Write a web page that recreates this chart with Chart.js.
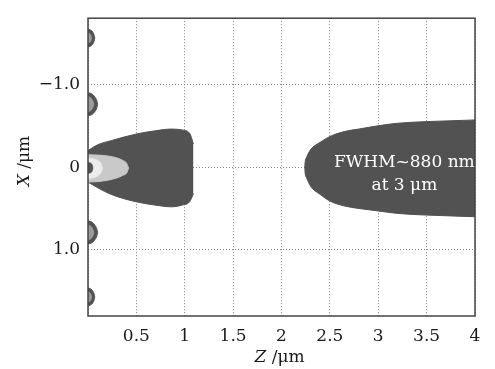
<!DOCTYPE html>
<html>
<head>
<meta charset="utf-8">
<script src="https://cdn.jsdelivr.net/npm/chart.js@4/dist/chart.umd.min.js"></script>
<style>
  html, body { margin: 0; padding: 0; background: #fff; }
  #wrap { width: 495px; height: 369px; }
</style>
</head>
<body>
<div id="wrap"><canvas id="beam"></canvas></div>
<script>
// axis ticks
var zTicks = [0, 0.5, 1, 1.5, 2, 2.5, 3, 3.5, 4];
var xTicks = [-1, 0, 1];

// main lobe near the tip (dark contour), upper and lower edge [Z, X]
var lobeTop = [[0, -0.2], [0.1, -0.27], [0.24, -0.32], [0.5, -0.4], [0.7, -0.44], [0.86, -0.46], [0.97, -0.45], [1.05, -0.41], [1.09, -0.28]];
var lobeBot = [[0, 0.18], [0.1, 0.25], [0.24, 0.33], [0.5, 0.42], [0.7, 0.46], [0.86, 0.48], [0.97, 0.46], [1.05, 0.42], [1.09, 0.32]];

// light grey and near-white cores, dark hot spot
var coreTop = [[0, -0.15], [0.1, -0.145], [0.2, -0.135], [0.3, -0.11], [0.36, -0.08], [0.4, -0.045], [0.42, 0.015]];
var coreBot = [[0, 0.18], [0.1, 0.175], [0.2, 0.16], [0.3, 0.13], [0.36, 0.1], [0.4, 0.07], [0.42, 0.015]];
var innerTop = [[0, -0.11], [0.05, -0.1], [0.1, -0.08], [0.13, -0.05], [0.15, 0.015]];
var innerBot = [[0, 0.14], [0.05, 0.13], [0.1, 0.105], [0.13, 0.075], [0.15, 0.015]];
var spotTop = [[0, -0.055], [0.03, -0.045], [0.045, -0.02], [0.05, 0.01]];
var spotBot = [[0, 0.075], [0.03, 0.065], [0.045, 0.04], [0.05, 0.01]];

// far-field beam (dark contour)
var farTop = [[2.24, 0], [2.245, -0.07], [2.26, -0.12], [2.3, -0.21], [2.4, -0.3], [2.5, -0.37], [2.65, -0.43], [2.8, -0.46], [3.0, -0.5], [3.2, -0.53], [3.5, -0.55], [3.75, -0.56], [4, -0.57]];
var farBot = [[2.24, 0], [2.245, 0.08], [2.26, 0.13], [2.3, 0.23], [2.4, 0.33], [2.5, 0.41], [2.65, 0.47], [2.8, 0.5], [3.0, 0.53], [3.2, 0.56], [3.5, 0.58], [3.75, 0.59], [4, 0.6]];

// side lobes on the left edge: outer ring and lighter centre
var sideATop = [[0, -1.67], [0.03, -1.655], [0.05, -1.63], [0.065, -1.59], [0.07, -1.56]];
var sideABot = [[0, -1.45], [0.03, -1.465], [0.05, -1.49], [0.065, -1.53], [0.07, -1.56]];
var sideAInTop = [[0, -1.62], [0.02, -1.61], [0.032, -1.585], [0.036, -1.56]];
var sideAInBot = [[0, -1.5], [0.02, -1.51], [0.032, -1.535], [0.036, -1.56]];
var sideBTop = [[0, -0.9], [0.04, -0.885], [0.07, -0.85], [0.092, -0.8], [0.1, -0.76]];
var sideBBot = [[0, -0.62], [0.04, -0.635], [0.07, -0.67], [0.092, -0.72], [0.1, -0.76]];
var sideBInTop = [[0, -0.85], [0.03, -0.835], [0.05, -0.8], [0.06, -0.76]];
var sideBInBot = [[0, -0.67], [0.03, -0.685], [0.05, -0.72], [0.06, -0.76]];
var sideCTop = [[0, 0.65], [0.04, 0.665], [0.07, 0.7], [0.092, 0.75], [0.1, 0.79]];
var sideCBot = [[0, 0.93], [0.04, 0.915], [0.07, 0.88], [0.092, 0.83], [0.1, 0.79]];
var sideCInTop = [[0, 0.7], [0.03, 0.715], [0.05, 0.75], [0.06, 0.79]];
var sideCInBot = [[0, 0.88], [0.03, 0.865], [0.05, 0.83], [0.06, 0.79]];
var sideDTop = [[0, 1.46], [0.03, 1.475], [0.05, 1.5], [0.065, 1.54], [0.07, 1.57]];
var sideDBot = [[0, 1.68], [0.03, 1.665], [0.05, 1.64], [0.065, 1.6], [0.07, 1.57]];
var sideDInTop = [[0, 1.51], [0.02, 1.52], [0.032, 1.545], [0.036, 1.57]];
var sideDInBot = [[0, 1.63], [0.02, 1.62], [0.032, 1.595], [0.036, 1.57]];

var dark = '#525252';
var mid = '#9a9a9a';
var light = '#c9c9c9';
var whiteish = '#ececec';
var serif = '"DejaVu Serif", "Liberation Serif", serif';

function pts(arr) {
  return arr.map(function (p) { return { x: p[0], y: p[1] }; });
}
// an upper edge filled down to the lower edge that follows it
function band(top, bot, color, order) {
  var base = {
    showLine: true, pointRadius: 0, pointHoverRadius: 0, borderWidth: 1,
    borderColor: color, backgroundColor: color, order: order,
    cubicInterpolationMode: 'monotone'
  };
  return [
    Object.assign({ data: pts(top), fill: '+1' }, base),
    Object.assign({ data: pts(bot), fill: false }, base)
  ];
}

var datasets = [].concat(
  band(lobeTop, lobeBot, dark, 3),
  band(farTop, farBot, dark, 3),
  band(coreTop, coreBot, light, 2),
  band(innerTop, innerBot, whiteish, 1),
  band(spotTop, spotBot, dark, 0),
  band(sideATop, sideABot, dark, 0),
  band(sideBTop, sideBBot, dark, 0),
  band(sideCTop, sideCBot, dark, 0),
  band(sideDTop, sideDBot, dark, 0),
  band(sideAInTop, sideAInBot, mid, -1),
  band(sideBInTop, sideBInBot, mid, -1),
  band(sideCInTop, sideCInBot, mid, -1),
  band(sideDInTop, sideDInBot, mid, -1)
);

var overlay = {
  id: 'overlay',
  afterDatasetsDraw: function (chart) {
    var ctx = chart.ctx, a = chart.chartArea;
    var sx = chart.scales.x, sy = chart.scales.y;
    ctx.save();
    ctx.strokeStyle = '#444';
    ctx.lineWidth = 1.5;
    ctx.strokeRect(a.left, a.top, a.right - a.left, a.bottom - a.top);

    ctx.fillStyle = '#fff';
    ctx.font = '17px ' + serif;
    ctx.textAlign = 'center';
    ctx.textBaseline = 'middle';
    ctx.fillText('FWHM~880 nm', sx.getPixelForValue(3.27), sy.getPixelForValue(-0.05));
    ctx.fillText('at 3 μm', sx.getPixelForValue(3.27), sy.getPixelForValue(0.22));

    // axis titles with an italic letter
    ctx.fillStyle = '#1a1a1a';
    drawTitle(ctx, 'Z', ' /μm', (a.left + a.right) / 2 - 2, 358, 0);
    drawTitle(ctx, 'X', ' /μm', 25, (a.top + a.bottom) / 2 - 6, -Math.PI / 2);
    ctx.restore();
  }
};

function drawTitle(ctx, letter, rest, cx, cy, rot) {
  ctx.save();
  ctx.translate(cx, cy);
  ctx.rotate(rot);
  ctx.textBaseline = 'middle';
  ctx.textAlign = 'left';
  ctx.font = 'italic 17px ' + serif;
  var w1 = ctx.measureText(letter).width;
  ctx.font = '17px ' + serif;
  var w2 = ctx.measureText(rest).width;
  var x0 = -(w1 + w2) / 2;
  ctx.font = 'italic 17px ' + serif;
  ctx.fillText(letter, x0, 0);
  ctx.font = '17px ' + serif;
  ctx.fillText(rest, x0 + w1, 0);
  ctx.restore();
}

new Chart(document.getElementById('beam'), {
  type: 'scatter',
  data: { datasets: datasets },
  plugins: [overlay],
  options: {
    responsive: true,
    maintainAspectRatio: false,
    animation: false,
    layout: { padding: { top: 8, right: 20, left: 0, bottom: 0 } },
    plugins: { legend: { display: false }, tooltip: { enabled: false } },
    scales: {
      x: {
        type: 'linear', min: 0, max: 4,
        afterBuildTicks: function (s) { s.ticks = zTicks.map(function (v) { return { value: v }; }); },
        afterFit: function (s) { s.height = 53; },
        ticks: {
          color: '#1a1a1a', padding: 10, maxRotation: 0,
          font: { family: serif, size: 17 },
          callback: function (v) { return v === 0 ? '' : String(v); }
        },
        grid: { color: '#808080', lineWidth: 1, drawTicks: false },
        border: { display: false, dash: [1, 2] }
      },
      y: {
        type: 'linear', min: -1.8, max: 1.8, reverse: true,
        afterBuildTicks: function (s) { s.ticks = xTicks.map(function (v) { return { value: v }; }); },
        afterFit: function (s) { s.width = 88; },
        ticks: {
          color: '#1a1a1a', padding: 8,
          font: { family: serif, size: 17 },
          callback: function (v) {
            if (v === 0) return '0';
            return (v < 0 ? '\u22121.0' : '1.0');
          }
        },
        grid: { color: '#808080', lineWidth: 1, drawTicks: false },
        border: { display: false, dash: [1, 2] }
      }
    }
  }
});
</script>
</body>
</html>
